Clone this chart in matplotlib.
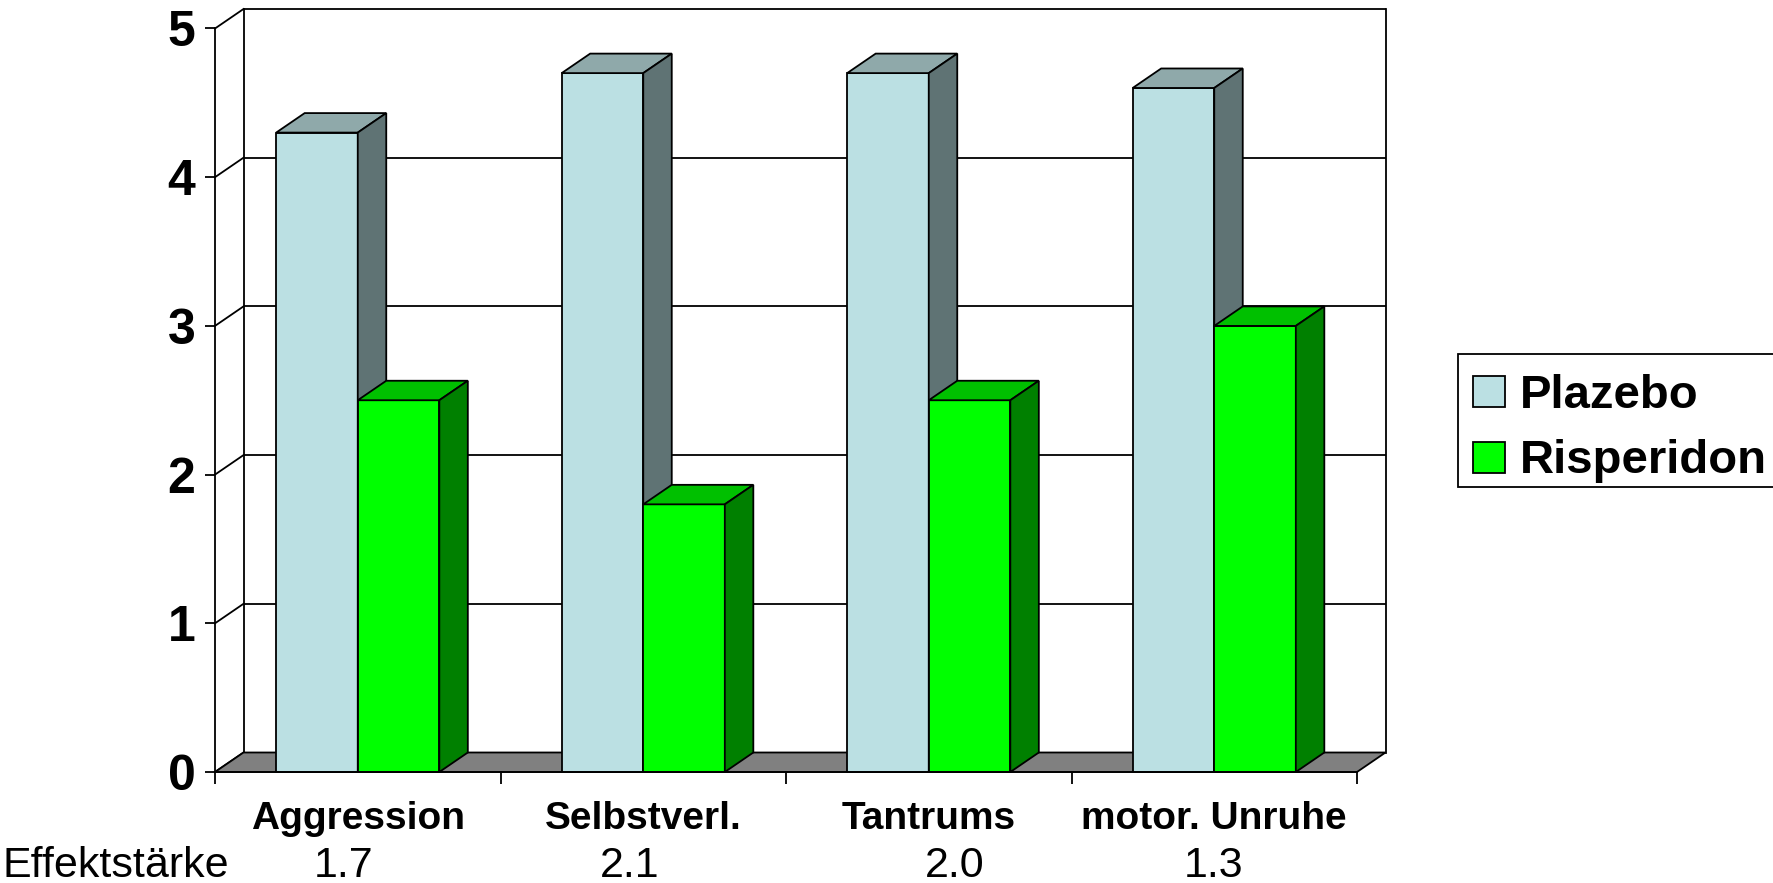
import matplotlib
matplotlib.use("Agg")
import matplotlib.pyplot as plt
from matplotlib.patches import Polygon, Rectangle
import matplotlib.transforms as mtransforms

# ---- data ----
categories = ["Aggression", "Selbstverl.", "Tantrums", "motor. Unruhe"]
series_names = ["Plazebo", "Risperidon"]
plazebo = [4.3, 4.7, 4.7, 4.6]
risperidon = [2.5, 1.8, 2.5, 3.0]
effect_label = "Effektstärke"
effect_sizes = ["1.7", "2.1", "2.0", "1.3"]
y_ticks = [0, 1, 2, 3, 4, 5]

# ---- style ----
FONT = "Liberation Sans"
plt.rcParams['font.family'] = [FONT, 'DejaVu Sans']
front_cols = ["#BBE0E3", "#00FF00"]
top_cols = ["#8FA9AA", "#00C000"]
side_cols = ["#5F7374", "#008000"]
floor_col = "#808080"

W, H = 1773, 883
fig = plt.figure(figsize=(W / 100, H / 100), dpi=100)
fig.patch.set_facecolor("white")

cat_px = 285.5
unit_px = 148.7
dx_px, dy_px = 28.5, 19.5
DX = dx_px / cat_px
DY = dy_px / unit_px
n = len(categories)
ymax = max(y_ticks)

left_px, base_px = 215, 772
ax = fig.add_axes([left_px / W, (H - base_px) / H,
                   (n + DX) * cat_px / W, (ymax + DY) * unit_px / H])
ax.set_xlim(0, n + DX)
ax.set_ylim(0, ymax + DY)
ax.patch.set_visible(False)

lw = 1.3
# back wall grid lines
for k in y_ticks:
    if k > 0:
        ax.plot([DX, n + DX], [k + DY, k + DY], color="black", lw=lw, zorder=1,
                clip_on=False, solid_capstyle="butt")
    ax.plot([0, DX], [k, k + DY], color="black", lw=lw, zorder=1, clip_on=False)
ax.plot([DX, DX], [DY, ymax + DY], color="black", lw=lw, zorder=1, clip_on=False)
ax.plot([n + DX, n + DX], [DY, ymax + DY], color="black", lw=lw, zorder=1, clip_on=False)

# floor
ax.add_patch(Polygon([(0, 0), (n, 0), (n + DX, DY), (DX, DY)], closed=True,
                     facecolor=floor_col, edgecolor="black", lw=lw, zorder=2,
                     clip_on=False))

# bars
w = 1 / 3.5
for s, vals in enumerate([plazebo, risperidon]):
    xs = [i + 0.5 - w + s * w for i in range(n)]
    bars = ax.bar(xs, vals, width=w, align="edge", color=front_cols[s],
                  edgecolor="black", linewidth=lw, zorder=3 + s, clip_on=False)
    for b in bars:
        x0 = b.get_x()
        x1 = x0 + b.get_width()
        h = b.get_height()
        ax.add_patch(Polygon([(x0, h), (x1, h), (x1 + DX, h + DY), (x0 + DX, h + DY)],
                             closed=True, facecolor=top_cols[s], edgecolor="black",
                             lw=lw, zorder=3 + s, clip_on=False))
        ax.add_patch(Polygon([(x1, 0), (x1 + DX, DY), (x1 + DX, h + DY), (x1, h)],
                             closed=True, facecolor=side_cols[s], edgecolor="black",
                             lw=lw, zorder=3 + s, clip_on=False))

# axes spines / ticks
for sp in ["top", "right"]:
    ax.spines[sp].set_visible(False)
ax.spines["left"].set_bounds(0, ymax)
ax.spines["bottom"].set_bounds(0, n)
for sp in ["left", "bottom"]:
    ax.spines[sp].set_linewidth(lw)
    ax.spines[sp].set_zorder(6)
ax.set_yticks(y_ticks)
ax.set_yticklabels([str(t) for t in y_ticks], fontsize=36, fontweight="bold")
ax.tick_params(axis="y", length=7.2, width=lw, pad=7, direction="out")
ax.set_xticks(range(n + 1))
ax.set_xticklabels([""] * (n + 1))
ax.tick_params(axis="x", length=8.6, width=lw, direction="out")

# category labels
trans = mtransforms.blended_transform_factory(ax.transData, fig.transFigure)
for i, c in enumerate(categories):
    ax.text(i + 0.5, (H - 829) / H, c, transform=trans, ha="center", va="baseline",
            fontsize=28, fontweight="bold")

# effect size row
fig.text(2 / W, (H - 877) / H, effect_label, ha="left", va="baseline", fontsize=31)
effect_x = [0.45, 1.454, 2.592, 3.496]
for xv, e in zip(effect_x, effect_sizes):
    ax.text(xv, (H - 877) / H, e, transform=trans, ha="center", va="baseline",
            fontsize=31)

# legend (manual, frame extends beyond right edge as in reference)
fig.patches.append(Rectangle((1458 / W, (H - 487) / H), 400 / W, (487 - 354) / H,
                             transform=fig.transFigure, facecolor="white",
                             edgecolor="black", lw=1.3, zorder=10))
leg_rows = [(376, 408), (442, 473)]
for s, (ptop, base) in enumerate(leg_rows):
    fig.patches.append(Rectangle((1473 / W, (H - ptop - 31) / H), 32 / W, 31 / H,
                                 transform=fig.transFigure, facecolor=front_cols[s],
                                 edgecolor="black", lw=1.3, zorder=11))
    fig.text(1520 / W, (H - base) / H, series_names[s], ha="left", va="baseline",
             fontsize=34, fontweight="bold", zorder=12)

fig.savefig("out.png", dpi=100)
